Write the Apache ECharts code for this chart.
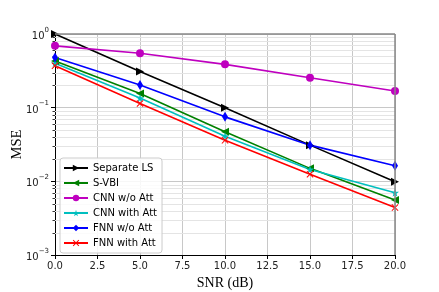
<!DOCTYPE html>
<html><head><meta charset="utf-8">
<script src="https://cdn.jsdelivr.net/npm/echarts@6/dist/echarts.min.js"></script>
<style>html,body{margin:0;padding:0;background:#fff}#c{width:439px;height:292px}</style>
</head><body><div id="c"></div>
<script>
const snr = [0, 5, 10, 15, 20];
const separateLS = [1.0, 0.31, 0.1, 0.031, 0.0099];
const sVBI = [0.43, 0.156, 0.047, 0.015, 0.0056];
const cnnNoAtt = [0.69, 0.547, 0.387, 0.255, 0.168];
const cnnAtt = [0.40, 0.135, 0.041, 0.0145, 0.0070];
const fnnNoAtt = [0.48, 0.203, 0.075, 0.031, 0.0163];
const fnnAtt = [0.37, 0.114, 0.036, 0.0125, 0.0044];
const minorTicks = [0.002,0.003,0.004,0.005,0.006,0.007,0.008,0.009,
  0.02,0.03,0.04,0.05,0.06,0.07,0.08,0.09,
  0.2,0.3,0.4,0.5,0.6,0.7,0.8,0.9];
const names = ['Separate LS','S-VBI','CNN w/o Att','CNN with Att','FNN w/o Att','FNN with Att'];

const starPath = 'path://M50,0 L61,35 L98,35 L68,57 L79,91 L50,70 L21,91 L32,57 L2,35 L39,35 Z';
const xPath = 'path://M10,0 L50,40 L90,0 L100,10 L60,50 L100,90 L90,100 L50,60 L10,100 L0,90 L40,50 L0,10 Z';

function pairs(arr){ return snr.map((x,i)=>[x, arr[i]]); }
function mk(name, arr, color, symbol, size, rot){
  return {name, type:'line', data:pairs(arr), z:5,
    lineStyle:{color, width:1.6}, itemStyle:{color},
    symbol, symbolSize:size, symbolRotate:rot||0, showSymbol:true,
    emphasis:{disabled:true}, animation:false};
}
const chart = echarts.init(document.getElementById('c'), null, {renderer:'canvas'});
const sup = {'-1':'−1','-2':'−2','-3':'−3','0':'0'};
chart.setOption({
  animation:false,
  backgroundColor:'#fff',
  grid:{left:55, right:44, top:34, bottom:37, containLabel:false, outerBoundsMode:'none'},
  xAxis:{type:'value', min:0, max:20, interval:2.5,
    name:'SNR (dB)', nameLocation:'middle', nameGap:21, nameMoveOverlap:false,
    nameTextStyle:{fontFamily:'Liberation Serif', fontSize:14, color:'#000'},
    axisLine:{show:true, onZero:false, lineStyle:{color:'#000', width:1}},
    axisTick:{show:true, length:4, lineStyle:{color:'#000'}},
    axisLabel:{fontFamily:'DejaVu Sans', fontSize:10, color:'#222', margin:6,
      formatter:v=>v.toFixed(1)},
    splitLine:{show:true, lineStyle:{color:'#c8c8c8', width:1}}},
  yAxis:{type:'log', logBase:10, min:0.001, max:1,
    name:'MSE', nameLocation:'middle', nameGap:30, nameMoveOverlap:false,
    nameTextStyle:{fontFamily:'Liberation Serif', fontSize:14.5, color:'#000'},
    axisLine:{show:true, lineStyle:{color:'#000', width:1}},
    axisTick:{show:true, length:4, lineStyle:{color:'#000'}},
    axisLabel:{margin:6, color:'#222',
      formatter:v=>{const e=Math.round(Math.log10(v));return '{b|10}{s|'+sup[String(e)]+'}';},
      rich:{b:{fontFamily:'DejaVu Sans', fontSize:10, color:'#222', lineHeight:15, verticalAlign:'bottom'},
            s:{fontFamily:'DejaVu Sans', fontSize:7, color:'#222', lineHeight:15, verticalAlign:'top'}}},
    splitLine:{show:true, lineStyle:{color:'#c8c8c8', width:1}}},
  legend:{left:60, top:158, orient:'vertical', itemWidth:24, itemHeight:8, itemGap:5,
    padding:[5,5,5,3], borderColor:'#cccccc', borderWidth:1, borderRadius:3,
    backgroundColor:'rgba(255,255,255,0.85)',
    textStyle:{fontFamily:'DejaVu Sans', fontSize:10, color:'#000', padding:[0,0,0,0]},
    data:names},
  graphic:[
    {type:'line', shape:{x1:395,y1:34,x2:395,y2:255}, style:{stroke:'#888',lineWidth:1.5}, z:10},
    {type:'line', shape:{x1:55,y1:34,x2:395,y2:34}, style:{stroke:'#888',lineWidth:1.5}, z:10}
  ],
  series:[
    {type:'custom', name:'minorgrid', z:1, silent:true, data:minorTicks.map(v=>[0,v]),
      renderItem:(params, api)=>{
        const v = api.value(1);
        const p1 = api.coord([0, v]);
        const p2 = api.coord([20, v]);
        const y = Math.round(p1[1])+0.5;
        return {type:'group', children:[
          {type:'line', shape:{x1:p1[0], y1:y, x2:p2[0], y2:y}, style:{stroke:'#e4e4e4', lineWidth:1}},
          {type:'line', shape:{x1:p1[0]-2.5, y1:y, x2:p1[0], y2:y}, style:{stroke:'#000', lineWidth:0.8}}
        ]};
      }},
    mk('Separate LS', separateLS, '#000000', 'triangle', 8, -90),
    mk('S-VBI', sVBI, '#008000', 'triangle', 8, 90),
    mk('CNN w/o Att', cnnNoAtt, '#bf00bf', 'circle', 8),
    mk('CNN with Att', cnnAtt, '#00bfbf', starPath, 8),
    mk('FNN w/o Att', fnnNoAtt, '#0000ff', 'diamond', [6,10]),
    mk('FNN with Att', fnnAtt, '#ff0000', xPath, 7)
  ]
});
</script></body></html>
